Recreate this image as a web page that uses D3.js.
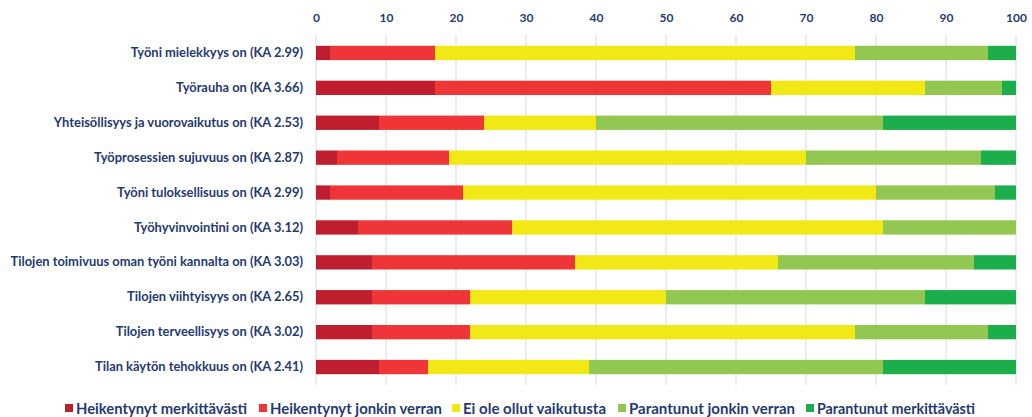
<!DOCTYPE html>
<html><head><meta charset="utf-8">
<script src="https://cdn.jsdelivr.net/npm/d3@7"></script>
<style>body{margin:0;background:#fff}</style>
</head><body><svg id="c" width="1032" height="417"></svg>
<script>
const categories = [
  "Työni mielekkyys on (KA 2.99)",
  "Työrauha on (KA 3.66)",
  "Yhteisöllisyys ja vuorovaikutus on (KA 2.53)",
  "Työprosessien sujuvuus on (KA 2.87)",
  "Työni tuloksellisuus on (KA 2.99)",
  "Työhyvinvointini on (KA 3.12)",
  "Tilojen toimivuus oman työni kannalta on (KA 3.03)",
  "Tilojen viihtyisyys on (KA 2.65)",
  "Tilojen terveellisyys on (KA 3.02)",
  "Tilan käytön tehokkuus on (KA 2.41)"
];
const seriesNames = ["Heikentynyt merkittävästi","Heikentynyt jonkin verran","Ei ole ollut vaikutusta","Parantunut jonkin verran","Parantunut merkittävästi"];
const heikentynytMerkittavasti = [2,17,9,3,2,6,8,8,8,9];
const heikentynytJonkin = [15,48,15,16,19,22,29,14,14,7];
const eiVaikutusta = [60,22,16,51,59,53,29,28,55,23];
const parantunutJonkin = [19,11,41,25,17,19,28,37,19,42];
const parantunutMerkittavasti = [4,2,19,5,3,0,6,13,4,19];
const tickValues = [0,10,20,30,40,50,60,70,80,90,100];
const colors = ["#BE1E2D","#EF3538","#F2E816","#92C852","#1CAE4B"];

const seriesData = [heikentynytMerkittavasti,heikentynytJonkin,eiVaikutusta,parantunutJonkin,parantunutMerkittavasti];
const rows = categories.map((c,i)=>{const o={cat:c}; seriesNames.forEach((s,j)=>o[s]=seriesData[j][i]); return o;});

const svg = d3.select("#c");
const x = d3.scaleLinear().domain([0,100]).range([316,1016]);
const y = d3.scaleBand().domain(categories).range([35.5,384.5]).paddingInner(0.59).paddingOuter(0.295);
const textColor = "#1F3A74";
const font = "Lato, 'Open Sans', sans-serif";

// gridlines
svg.append("g").selectAll("line").data(tickValues).join("line")
  .attr("x1",d=>x(d)).attr("x2",d=>x(d)).attr("y1",35).attr("y2",385)
  .attr("stroke","#D9D9D9").attr("stroke-width",1);

// top axis labels
const ax = svg.append("g").attr("transform","translate(0,22)")
  .call(d3.axisTop(x).tickValues(tickValues).tickSize(0).tickPadding(0));
ax.select(".domain").remove();
ax.selectAll("text").attr("fill",textColor).attr("font-family",font).attr("font-weight","bold").attr("font-size","12px");

// stacked bars
const stack = d3.stack().keys(seriesNames)(rows);
svg.append("g").selectAll("g").data(stack).join("g")
  .attr("fill",(d,i)=>colors[i])
  .selectAll("rect").data(d=>d).join("rect")
  .attr("x",d=>x(d[0])).attr("width",d=>x(d[1])-x(d[0]))
  .attr("y",d=>y(d.data.cat)).attr("height",y.bandwidth());

// category labels
const ay = svg.append("g").attr("transform","translate(303,0)")
  .call(d3.axisLeft(y).tickSize(0).tickPadding(0));
ay.select(".domain").remove();
ay.selectAll("text").attr("fill",textColor).attr("font-family",font).attr("font-weight","bold").attr("font-size","12.9px");

// legend
const legTextX = [76,270,463,629,817];
const legTextW = [171,172,143,166,158];
const lg = svg.append("g").selectAll("g").data(seriesNames).join("g")
  .attr("transform",(d,i)=>`translate(${legTextX[i]},409)`);
lg.append("rect").attr("x",-11).attr("y",-5).attr("width",8).attr("height",8).attr("fill",(d,i)=>colors[i]);
lg.append("text").attr("x",0).attr("y",0).attr("dy","0.35em").text(d=>d)
  .attr("fill",textColor).attr("font-family",font).attr("font-weight","bold").attr("font-size","15.5px")
  .attr("textLength",(d,i)=>legTextW[i]).attr("lengthAdjust","spacingAndGlyphs");
</script></body></html>
